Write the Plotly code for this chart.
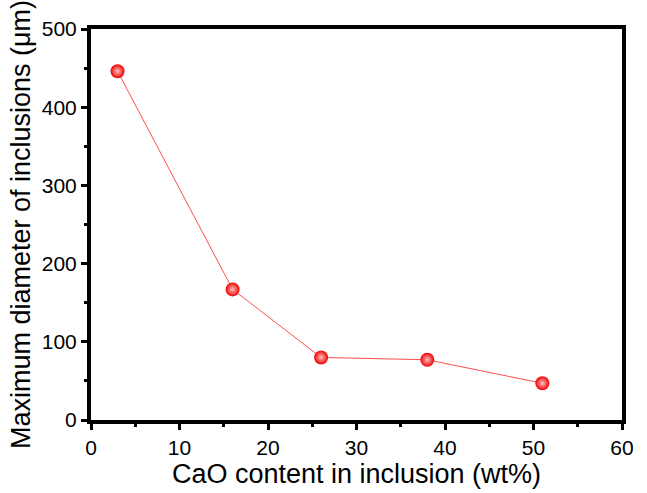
import plotly.graph_objects as go

cao = [3, 16, 26, 38, 51]
diam = [446, 167, 80, 77, 47]

fig = go.Figure()
fig.add_trace(go.Scatter(
    x=cao, y=diam, mode="lines+markers",
    line=dict(color="rgba(255,60,60,0.9)", width=1),
    marker=dict(size=14, color="#f00000", line=dict(width=0),
                gradient=dict(type="radial", color="#ffc0c0")),
    showlegend=False,
))

axis_common = dict(
    showline=True, linecolor="black", linewidth=4, mirror=True,
    ticks="outside", ticklen=6, tickwidth=3, tickcolor="black",
    showgrid=False, zeroline=False,
    tickfont=dict(family="Liberation Sans, Arial", size=21, color="black"),
    title_font=dict(family="Liberation Sans, Arial", size=27, color="black"),
)

fig.update_xaxes(range=[0, 60], dtick=10,
                 minor=dict(dtick=5, ticks="outside", ticklen=3, tickwidth=3, tickcolor="black"),
                 title_text="CaO content in inclusion (wt%)", title_standoff=2, **axis_common)
fig.update_yaxes(range=[0, 500], dtick=100,
                 minor=dict(dtick=50, ticks="outside", ticklen=3, tickwidth=3, tickcolor="black"),
                 title_text="Maximum diameter of inclusions (μm)", title_standoff=4, **axis_common)

fig.update_layout(
    width=647, height=493,
    margin=dict(l=91, r=25, t=29, b=73),
    plot_bgcolor="white", paper_bgcolor="white",
)
fig.write_html("out.html")
